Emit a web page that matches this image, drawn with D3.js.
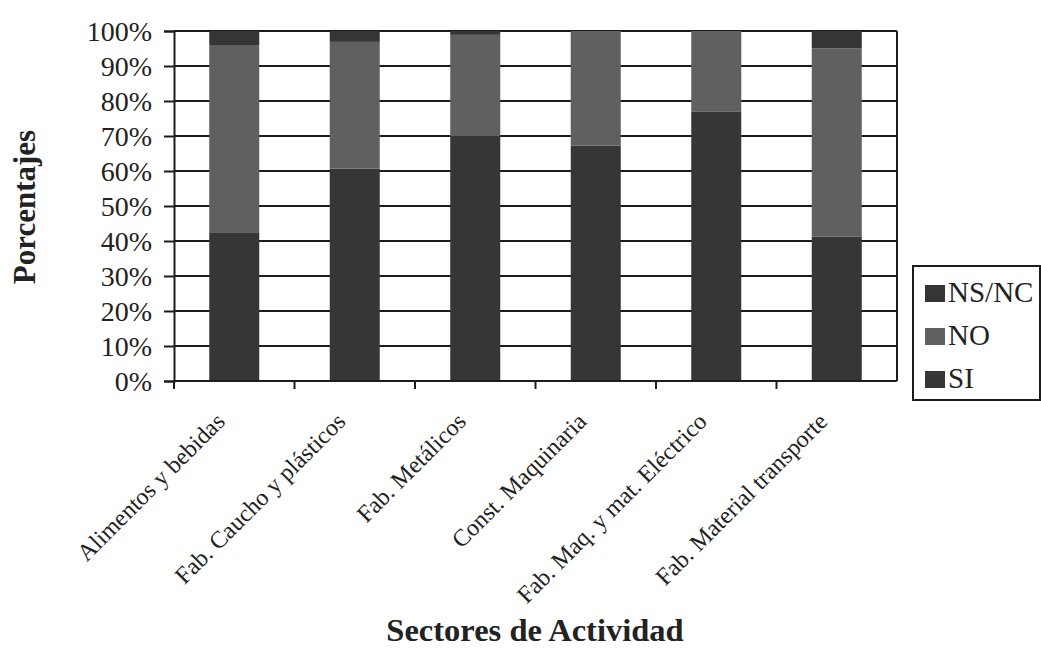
<!DOCTYPE html>
<html>
<head>
<meta charset="utf-8">
<script src="https://cdn.jsdelivr.net/npm/d3@7"></script>
<style>
  html, body { margin: 0; padding: 0; background: #fff; }
  svg { display: block; }
</style>
</head>
<body>
<svg id="chart" width="1041" height="651"></svg>
<script>
const categories = ["Alimentos y bebidas", "Fab. Caucho y plásticos", "Fab. Metálicos", "Const. Maquinaria", "Fab. Maq. y mat. Eléctrico", "Fab. Material transporte"];
const seriesNames = ["SI", "NO", "NS/NC"];
const siValues   = [42.5, 60.7, 70.0, 67.3, 76.9, 41.2];
const noValues   = [53.5, 36.2, 28.9, 32.7, 23.1, 53.8];
const nsncValues = [4.0, 3.1, 1.1, 0.0, 0.0, 5.0];
const yTicks = [0, 10, 20, 30, 40, 50, 60, 70, 80, 90, 100];
const colors = {"SI": "#363636", "NO": "#606060", "NS/NC": "#353535"};
const FONT = "'Liberation Serif', 'Times New Roman', serif";

const svg = d3.select("#chart");
const margin = {left: 174, top: 31};
const W = 897 - 174, H = 381 - 31;

const rows = categories.map((c, i) => ({cat: c, "SI": siValues[i], "NO": noValues[i], "NS/NC": nsncValues[i]}));
const stack = d3.stack().keys(seriesNames)(rows);

const x = d3.scaleBand().domain(categories).range([0, W]).paddingInner(0.585).paddingOuter(0.2925);
const xb = d3.scaleBand().domain(categories).range([0, W]);
const y = d3.scaleLinear().domain([0, 100]).range([H, 0]);

const g = svg.append("g").attr("transform", `translate(${margin.left},${margin.top})`);
const ink = "#1c1c1c";

// gridlines
g.append("g").selectAll("line").data(yTicks.filter(d => d > 0)).join("line")
  .attr("x1", 0).attr("x2", W).attr("y1", d => y(d)).attr("y2", d => y(d))
  .attr("stroke", ink).attr("stroke-width", 2);
// right border
g.append("line").attr("x1", W).attr("x2", W).attr("y1", 0).attr("y2", H)
  .attr("stroke", ink).attr("stroke-width", 2);

// bars
g.append("g").selectAll("g").data(stack).join("g")
  .attr("fill", d => colors[d.key])
  .selectAll("rect").data(d => d).join("rect")
  .attr("x", d => x(d.data.cat))
  .attr("width", x.bandwidth())
  .attr("y", d => y(d[1]))
  .attr("height", d => Math.max(0, y(d[0]) - y(d[1])));

// y axis
const yAxis = g.append("g").call(d3.axisLeft(y).tickValues(yTicks).tickFormat(d => d + "%").tickSize(10).tickPadding(12));
yAxis.select(".domain").attr("stroke", ink).attr("stroke-width", 2);
yAxis.selectAll(".tick line").attr("stroke", ink).attr("stroke-width", 2);
yAxis.selectAll(".tick text").style("font-family", FONT).style("font-size", "28px").attr("fill", "#222").attr("dy", "0.34em");

// x axis: ticks at category boundaries
g.append("line").attr("x1", 0).attr("x2", W).attr("y1", H).attr("y2", H)
  .attr("stroke", ink).attr("stroke-width", 2);
g.append("g").selectAll("line").data(categories).join("line")
  .attr("x1", d => xb(d)).attr("x2", d => xb(d)).attr("y1", H).attr("y2", H + 8)
  .attr("stroke", ink).attr("stroke-width", 2);

// x labels
g.append("g").selectAll("text").data(categories).join("text")
  .attr("transform", d => `translate(${xb(d) + xb.bandwidth() / 2 - 8},${H + 42}) rotate(-45)`)
  .attr("text-anchor", "end")
  .style("font-family", FONT).style("font-size", "24px").attr("fill", "#222")
  .text(d => d);

// axis titles
svg.append("text").attr("x", 535).attr("y", 641).attr("text-anchor", "middle")
  .style("font-family", FONT).style("font-size", "32.5px").style("font-weight", "bold").attr("fill", "#222")
  .text("Sectores de Actividad");
svg.append("text").attr("transform", "translate(35,207) rotate(-90)").attr("text-anchor", "middle")
  .style("font-family", FONT).style("font-size", "31px").style("font-weight", "bold").attr("fill", "#222")
  .text("Porcentajes");

// legend
const leg = svg.append("g");
leg.append("rect").attr("x", 913).attr("y", 266).attr("width", 127).attr("height", 134)
  .attr("fill", "#fff").attr("stroke", ink).attr("stroke-width", 2);
const legOrder = ["NS/NC", "NO", "SI"];
const legY = d3.scalePoint().domain(legOrder).range([293, 379]);
leg.selectAll("rect.sw").data(legOrder).join("rect").attr("class", "sw")
  .attr("x", 925).attr("y", d => legY(d) - 8).attr("width", 20).attr("height", 17)
  .attr("fill", d => colors[d]);
leg.selectAll("text").data(legOrder).join("text")
  .attr("x", 948).attr("y", d => legY(d) + 9)
  .style("font-family", FONT).style("font-size", "29px").attr("fill", "#222")
  .text(d => d);
</script>
</body>
</html>
